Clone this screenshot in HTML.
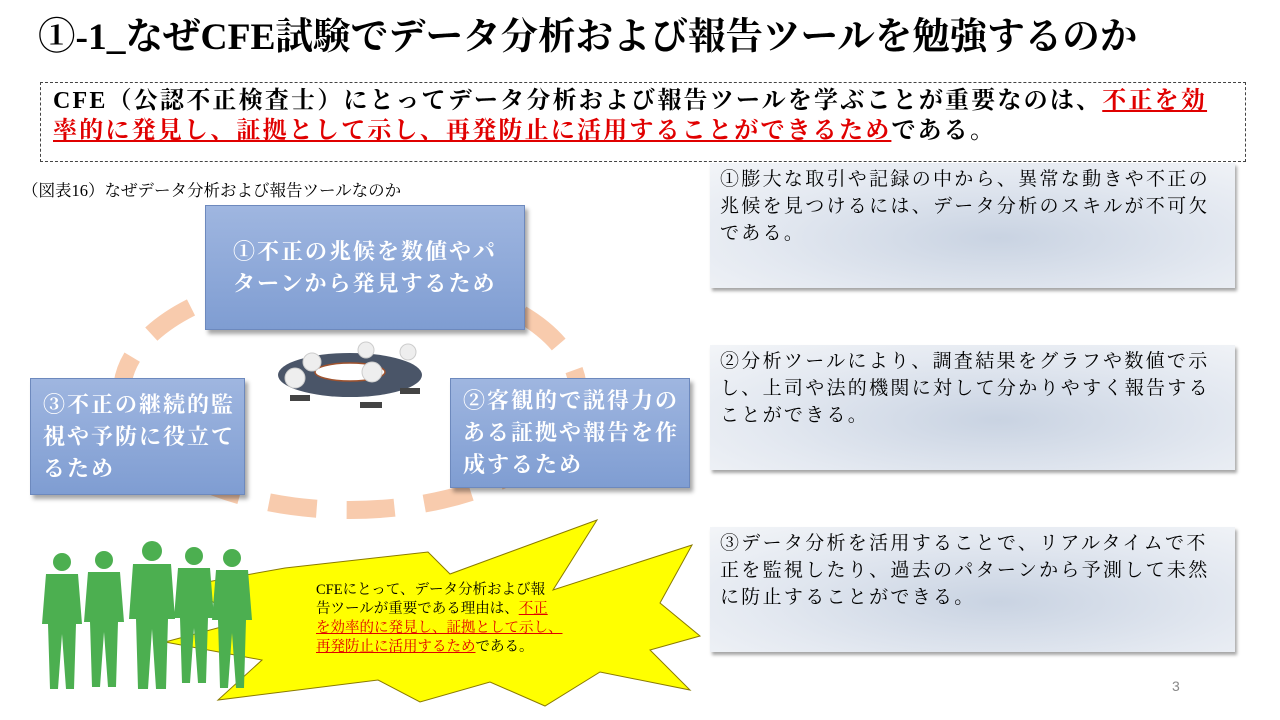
<!DOCTYPE html>
<html><head><meta charset="utf-8">
<style>
body{margin:0;width:1280px;height:720px;background:#fff;position:relative;overflow:hidden;font-family:"Liberation Serif","Noto Serif CJK JP",serif;}
.abs{position:absolute;}
.title{left:38px;top:6px;font-size:37.5px;font-weight:bold;color:#000;white-space:nowrap;}
.intro{left:40px;top:82px;width:1206px;height:80px;border:1px dashed #444;box-sizing:border-box;padding:3px 0 0 12px;font-size:24px;font-weight:bold;line-height:30px;white-space:nowrap;letter-spacing:2.2px;}
.red{color:#e00000;text-decoration:underline;}
.cap{left:22px;top:177px;font-size:16.5px;white-space:nowrap;}
.rb{position:absolute;left:710px;width:525px;background:radial-gradient(ellipse at 55% 60%,#c9d3e2 0%,#e4e9f1 60%,#f3f5f8 100%);box-shadow:2px 3px 3px rgba(0,0,0,0.35);font-size:19px;line-height:27px;padding:3px 10px;box-sizing:border-box;letter-spacing:2.3px;white-space:nowrap;}
.bb{position:absolute;background:linear-gradient(#9fb6e0,#7f9dd2);border:1px solid #6d89bd;box-shadow:3px 4px 4px rgba(0,0,0,0.35);color:#fff;font-weight:bold;font-size:22px;line-height:32px;box-sizing:border-box;padding:0 12px;display:flex;align-items:center;white-space:nowrap;letter-spacing:2px;}
</style></head><body>
<div class="abs title">①-1_なぜCFE試験でデータ分析および報告ツールを勉強するのか</div>
<div class="abs intro">CFE（公認不正検査士）にとってデータ分析および報告ツールを学ぶことが重要なのは、<span class="red">不正を効</span><br><span class="red">率的に発見し、証拠として示し、再発防止に活用することができるため</span>である。</div>
<div class="abs cap">（図表16）なぜデータ分析および報告ツールなのか</div>

<div class="rb" style="top:163px;height:125px;">①膨大な取引や記録の中から、異常な動きや不正の<br>兆候を見つけるには、データ分析のスキルが不可欠<br>である。</div>
<div class="rb" style="top:345px;height:125px;">②分析ツールにより、調査結果をグラフや数値で示<br>し、上司や法的機関に対して分かりやすく報告する<br>ことができる。</div>
<div class="rb" style="top:527px;height:125px;">③データ分析を活用することで、リアルタイムで不<br>正を監視したり、過去のパターンから予測して未然<br>に防止することができる。</div>

<svg class="abs" style="left:0;top:0" width="1280" height="720">
<ellipse cx="350" cy="392" rx="228" ry="118" fill="none" stroke="#f8cbad" stroke-width="18" stroke-dasharray="48 30"/>
<ellipse cx="350" cy="375" rx="72" ry="22" fill="#4a5568"/>
<ellipse cx="350" cy="372" rx="35" ry="9" fill="#fff" stroke="#a0522d" stroke-width="1.5"/>
<g fill="#eee" stroke="#ccc">
<circle cx="312" cy="362" r="9"/><circle cx="366" cy="350" r="8"/><circle cx="408" cy="352" r="8"/><circle cx="295" cy="378" r="10"/><circle cx="372" cy="372" r="10"/>
</g>
<g fill="#444"><rect x="290" y="395" width="20" height="6"/><rect x="360" y="402" width="22" height="6"/><rect x="400" y="388" width="20" height="6"/></g>
<polygon points="285,568 428,552 450,574 597,520 553,590 692,545 660,603 700,636 650,650 690,690 600,672 545,706 490,682 420,702 378,680 218,700 262,660 165,642 240,622 190,585" fill="#ffff00" stroke="#8a7a00" stroke-width="1"/>
<g fill="#4caf50">
<g transform="translate(40,552)"><circle cx="22" cy="10" r="9"/><path d="M6,22 h32 l4,50 h-6 l-2,65 h-8 l-4,-55 l-4,55 h-8 l-2,-65 h-6z"/></g>
<g transform="translate(82,550)"><circle cx="22" cy="10" r="9"/><path d="M6,22 h32 l4,50 h-6 l-2,65 h-8 l-4,-55 l-4,55 h-8 l-2,-65 h-6z"/></g>
<g transform="translate(128,540)"><circle cx="24" cy="11" r="10"/><path d="M5,24 h38 l4,55 h-7 l-2,70 h-10 l-4,-60 l-4,60 h-10 l-2,-70 h-7z"/></g>
<g transform="translate(172,546)"><circle cx="22" cy="10" r="9"/><path d="M6,22 h32 l4,50 h-6 l-2,65 h-8 l-4,-55 l-4,55 h-8 l-2,-65 h-6z"/></g>
<g transform="translate(210,548)"><circle cx="22" cy="10" r="9"/><path d="M6,22 h32 l4,50 h-6 l-2,68 h-8 l-4,-55 l-4,55 h-8 l-2,-68 h-6z"/></g>
</g>
</svg>

<div class="bb" style="left:205px;top:205px;width:320px;height:125px;justify-content:center;">①不正の兆候を数値やパ<br>ターンから発見するため</div>
<div class="bb" style="left:450px;top:378px;width:240px;height:110px;">②客観的で説得力の<br>ある証拠や報告を作<br>成するため</div>
<div class="bb" style="left:30px;top:378px;width:215px;height:117px;">③不正の継続的監<br>視や予防に役立て<br>るため</div>

<div class="abs" style="left:316px;top:581px;font-size:14.5px;line-height:19px;white-space:nowrap;">CFEにとって、データ分析および報<br>告ツールが重要である理由は、<span class="red">不正</span><br><span class="red">を効率的に発見し、証拠として示し、</span><br><span class="red">再発防止に活用するため</span>である。</div>
<div class="abs" style="left:1172px;top:678px;font-size:14px;color:#888;font-family:'Liberation Sans',sans-serif;">3</div>
</body></html>
